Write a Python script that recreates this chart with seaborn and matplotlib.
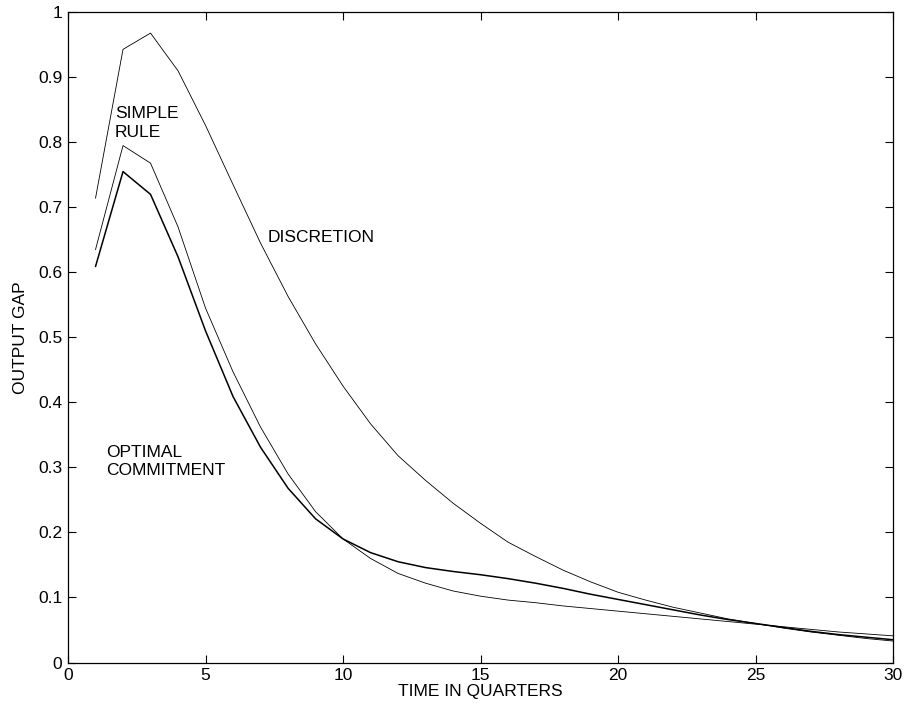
import numpy as np
import pandas as pd
import matplotlib
matplotlib.use("Agg")
import matplotlib.pyplot as plt
import seaborn as sns

quarters = list(range(1, 31))
discretion = [0.714, 0.943, 0.968, 0.910, 0.826, 0.735, 0.645, 0.563, 0.490, 0.425,
              0.367, 0.318, 0.280, 0.245, 0.214, 0.185, 0.163, 0.142, 0.124, 0.108,
              0.096, 0.085, 0.076, 0.067, 0.060, 0.053, 0.047, 0.042, 0.037, 0.033]
commitment = [0.609, 0.755, 0.720, 0.624, 0.510, 0.409, 0.331, 0.268, 0.221, 0.190,
              0.169, 0.155, 0.146, 0.140, 0.135, 0.129, 0.122, 0.114, 0.105, 0.097,
              0.089, 0.081, 0.073, 0.066, 0.060, 0.054, 0.048, 0.043, 0.039, 0.035]
simple_rule = [0.635, 0.795, 0.768, 0.670, 0.545, 0.447, 0.362, 0.290, 0.232, 0.190,
               0.160, 0.137, 0.122, 0.110, 0.102, 0.096, 0.092, 0.087, 0.083, 0.079,
               0.075, 0.071, 0.067, 0.063, 0.059, 0.055, 0.051, 0.047, 0.044, 0.041]

x_ticks = [0, 5, 10, 15, 20, 25, 30]
y_ticks = [0, 0.1, 0.2, 0.3, 0.4, 0.5, 0.6, 0.7, 0.8, 0.9, 1]
y_ticklabels = ["0", "0.1", "0.2", "0.3", "0.4", "0.5", "0.6", "0.7", "0.8", "0.9", "1"]

sns.set_style("ticks")
plt.rcParams["font.family"] = ["Liberation Sans", "DejaVu Sans"]
plt.rcParams["font.size"] = 12.5
plt.rcParams["text.color"] = "black"
plt.rcParams["axes.labelcolor"] = "black"
plt.rcParams["xtick.color"] = "black"
plt.rcParams["ytick.color"] = "black"

fig = plt.figure(figsize=(9.09, 7.15), dpi=100)
ax = fig.add_axes([0.0748, 0.0734, 0.9079, 0.9094])

df = pd.DataFrame({"t": quarters, "disc": discretion, "comm": commitment, "simp": simple_rule})
sns.lineplot(data=df, x="t", y="disc", ax=ax, color="black", linewidth=0.6)
sns.lineplot(data=df, x="t", y="simp", ax=ax, color="black", linewidth=0.6)
sns.lineplot(data=df, x="t", y="comm", ax=ax, color="black", linewidth=1.1)

ax.set_xlim(0, 30)
ax.set_ylim(0, 1)
ax.set_xticks(x_ticks)
ax.set_xticklabels([str(v) for v in x_ticks])
ax.set_yticks(y_ticks)
ax.set_yticklabels(y_ticklabels)
ax.tick_params(direction="in", length=6, width=0.8, top=True, right=True,
               labelsize=12.5, colors="black", labelcolor="black", pad=4)
for s in ax.spines.values():
    s.set_visible(True)
    s.set_linewidth(0.9)
    s.set_color("black")

ax.set_xlabel("TIME IN QUARTERS", fontsize=12.5, labelpad=1, color="black")
ax.set_ylabel("OUTPUT GAP", fontsize=12.5, labelpad=7, color="black")

ax.text(1.7, 0.830, "SIMPLE\nRULE", fontsize=12.5, va="center", ha="left",
        linespacing=1.3, color="black")
ax.text(7.25, 0.653, "DISCRETION", fontsize=12.5, va="center", ha="left", color="black")
ax.text(1.38, 0.309, "OPTIMAL\nCOMMITMENT", fontsize=12.5, va="center", ha="left",
        linespacing=1.3, color="black")

fig.savefig("out.png", dpi=100)
